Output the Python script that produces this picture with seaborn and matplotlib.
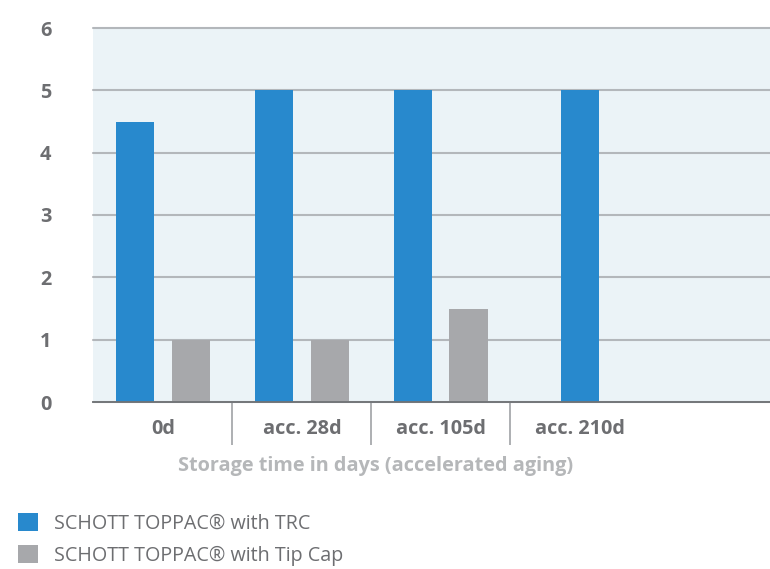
import numpy as np
import pandas as pd
import matplotlib
matplotlib.use("Agg")
import matplotlib.pyplot as plt
import seaborn as sns

# Data
categories = ["0d", "acc. 28d", "acc. 105d", "acc. 210d"]
series = ["SCHOTT TOPPAC® with TRC", "SCHOTT TOPPAC® with Tip Cap"]
trc_values = [4.5, 5.0, 5.0, 5.0]
tipcap_values = [1.0, 1.0, 1.5, np.nan]
y_ticks = [0, 1, 2, 3, 4, 5, 6]
x_title = "Storage time in days (accelerated aging)"
colors = ["#2889CD", "#A7A8AB"]

df = pd.DataFrame({
    "storage": categories * 2,
    "series": [series[0]] * len(categories) + [series[1]] * len(categories),
    "value": trc_values + tipcap_values,
}).dropna()

sns.set_style("white")
plt.rcParams["font.family"] = ["Open Sans", "DejaVu Sans"]

fig = plt.figure(figsize=(7.7, 5.69), dpi=100)
ax = fig.add_axes([93 / 770, 1 - 402 / 569, 1 - 93 / 770, (402 - 28) / 569])
ax.set_facecolor("#EBF3F7")

sns.barplot(data=df, x="storage", y="value", hue="series", hue_order=series,
            order=categories, palette=colors, width=0.8, gap=0.31,
            saturation=1, ax=ax, zorder=3, linewidth=0)

# Lone bar in the last group sits at the group centre
last = ax.containers[0][-1]
last.set_x(len(categories) - 1 - last.get_width() / 2)

handles, labels = ax.get_legend_handles_labels()
ax.get_legend().remove()

ax.set_ylim(0, 6)
ax.set_xlim(-0.504, 4.37)
ax.set_yticks(y_ticks)
ax.grid(axis="y", color="#B3B7BB", linewidth=1.5, zorder=0)
ax.grid(axis="x", visible=False)
for gl in ax.get_ygridlines():
    gl.set_clip_on(False)

for s in ["left", "right", "top"]:
    ax.spines[s].set_visible(False)
ax.spines["bottom"].set_color("#6F7275")
ax.spines["bottom"].set_linewidth(1.3)
ax.spines["bottom"].set_zorder(4)

ax.tick_params(axis="y", length=0, pad=30, labelsize=14.3, labelcolor="#6D6E71")
ax.tick_params(axis="x", which="major", bottom=True, length=0, pad=12,
               labelsize=14.3, labelcolor="#6D6E71")
for t in ax.get_yticklabels() + ax.get_xticklabels():
    t.set_fontweight("bold")

# Group separators below the axis
ax.set_xticks([0.5, 1.5, 2.5], minor=True)
ax.tick_params(axis="x", which="minor", bottom=True, length=31, width=1.2,
               color="#A0A2A5", direction="out")

ax.set_xlabel("")
ax.set_ylabel("")
fig.text(376 / 770, 1 - 466 / 569, x_title, ha="center", va="center",
         fontsize=14.3, fontweight="bold", color="#B5B7B9")

fig.legend(handles, labels, loc="upper left", bbox_to_anchor=(18 / 770, 1 - 513 / 569),
           frameon=False, fontsize=14.2, labelcolor="#6D6E71", borderpad=0,
           borderaxespad=0, handlelength=1.0, handleheight=1.0,
           handletextpad=0.85, labelspacing=0.6)

fig.savefig("out.png", dpi=100)
